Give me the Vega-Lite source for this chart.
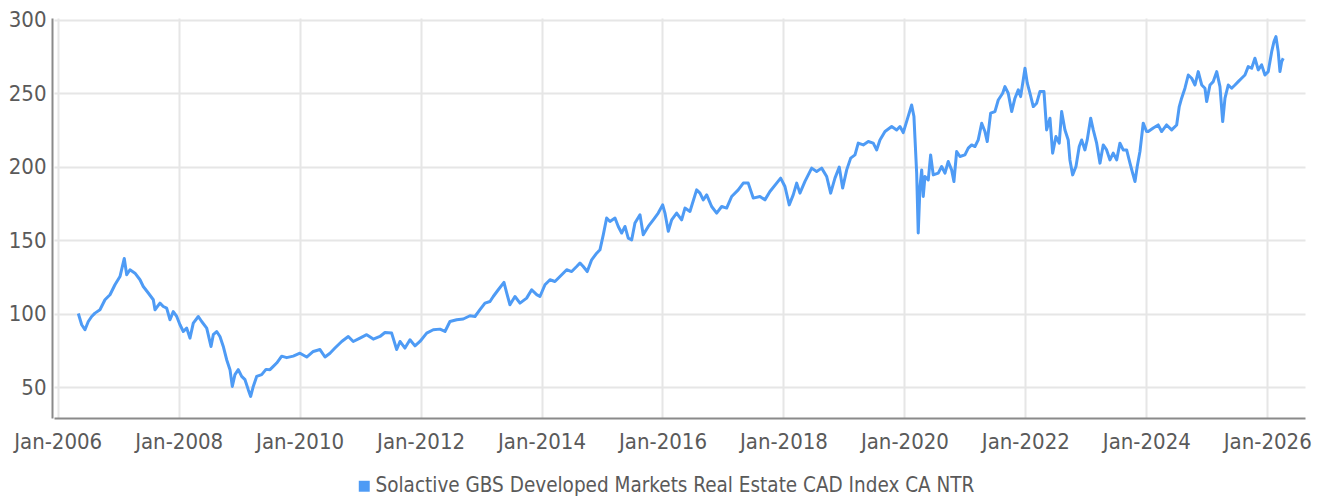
{
  "$schema": "https://vega.github.io/schema/vega-lite/v6.json",
  "width": 1251,
  "height": 400,
  "autosize": {"type": "none"},
  "padding": {"left": 54, "top": 18, "right": 16, "bottom": 83},
  "background": "white",
  "config": {
    "view": {"stroke": null},
    "font": "DejaVu Sans Condensed, Roboto, sans-serif",
    "axis": {"labelFont": "DejaVu Sans Condensed, Roboto, sans-serif", "labelFontSize": 22, "labelColor": "#5a5a5a", "gridColor": "#e6e6e6", "gridWidth": 2, "domainColor": "#8a8a8a", "domainWidth": 2, "ticks": false, "title": null}
  },
  "data": {
    "values": [
      {"t": 2006.341, "value": 100},
      {"t": 2006.397, "value": 92.4}, {"t": 2006.451, "value": 89}, {"t": 2006.506, "value": 94.6}, {"t": 2006.562, "value": 98},
      {"t": 2006.617, "value": 100.3}, {"t": 2006.699, "value": 102.6}, {"t": 2006.782, "value": 109.4}, {"t": 2006.865, "value": 112.8},
      {"t": 2006.947, "value": 119.6}, {"t": 2007.030, "value": 125.2}, {"t": 2007.101, "value": 137.5}, {"t": 2007.141, "value": 126.4},
      {"t": 2007.195, "value": 129.8}, {"t": 2007.278, "value": 127.5}, {"t": 2007.361, "value": 123}, {"t": 2007.415, "value": 118.4},
      {"t": 2007.498, "value": 114}, {"t": 2007.581, "value": 109.4}, {"t": 2007.609, "value": 102.6}, {"t": 2007.691, "value": 107.1},
      {"t": 2007.746, "value": 104.8}, {"t": 2007.802, "value": 103.7}, {"t": 2007.857, "value": 95.8}, {"t": 2007.911, "value": 101.3},
      {"t": 2007.968, "value": 98}, {"t": 2008.022, "value": 92.4}, {"t": 2008.077, "value": 87.8}, {"t": 2008.133, "value": 90.1},
      {"t": 2008.187, "value": 83.3}, {"t": 2008.242, "value": 93.5}, {"t": 2008.325, "value": 98}, {"t": 2008.381, "value": 94.6},
      {"t": 2008.464, "value": 90.1}, {"t": 2008.535, "value": 77.6}, {"t": 2008.573, "value": 85.6}, {"t": 2008.629, "value": 87.8},
      {"t": 2008.683, "value": 84.4}, {"t": 2008.738, "value": 77.6}, {"t": 2008.794, "value": 68.6}, {"t": 2008.849, "value": 61.8},
      {"t": 2008.887, "value": 50.4}, {"t": 2008.931, "value": 58.4}, {"t": 2008.986, "value": 61.8}, {"t": 2009.042, "value": 57.2},
      {"t": 2009.097, "value": 55}, {"t": 2009.151, "value": 48.2}, {"t": 2009.191, "value": 43.6}, {"t": 2009.234, "value": 50.4},
      {"t": 2009.290, "value": 57.2}, {"t": 2009.373, "value": 58.4}, {"t": 2009.444, "value": 62}, {"t": 2009.510, "value": 61.8},
      {"t": 2009.565, "value": 64}, {"t": 2009.621, "value": 66.3}, {"t": 2009.704, "value": 71}, {"t": 2009.786, "value": 70},
      {"t": 2009.895, "value": 71}, {"t": 2010.006, "value": 73}, {"t": 2010.117, "value": 70.4}, {"t": 2010.226, "value": 74.2},
      {"t": 2010.337, "value": 75.5}, {"t": 2010.420, "value": 70.4}, {"t": 2010.502, "value": 73}, {"t": 2010.585, "value": 76.5},
      {"t": 2010.696, "value": 81}, {"t": 2010.805, "value": 84.4}, {"t": 2010.887, "value": 81}, {"t": 2010.998, "value": 83.3},
      {"t": 2011.109, "value": 85.6}, {"t": 2011.218, "value": 82.6}, {"t": 2011.329, "value": 84.4}, {"t": 2011.411, "value": 87.1},
      {"t": 2011.522, "value": 86.7}, {"t": 2011.605, "value": 75.5}, {"t": 2011.660, "value": 81}, {"t": 2011.742, "value": 76.5},
      {"t": 2011.825, "value": 82.2}, {"t": 2011.908, "value": 78}, {"t": 2011.990, "value": 81}, {"t": 2012.101, "value": 86.7},
      {"t": 2012.210, "value": 89}, {"t": 2012.321, "value": 89.4}, {"t": 2012.404, "value": 87.8}, {"t": 2012.486, "value": 94.6},
      {"t": 2012.597, "value": 95.8}, {"t": 2012.706, "value": 96.3}, {"t": 2012.817, "value": 98.5}, {"t": 2012.900, "value": 98},
      {"t": 2012.982, "value": 102.6}, {"t": 2013.065, "value": 107.1}, {"t": 2013.148, "value": 108.2}, {"t": 2013.202, "value": 111.6},
      {"t": 2013.285, "value": 116.2}, {"t": 2013.379, "value": 121.2}, {"t": 2013.424, "value": 114}, {"t": 2013.478, "value": 106},
      {"t": 2013.561, "value": 111.6}, {"t": 2013.644, "value": 107.1}, {"t": 2013.754, "value": 110.5}, {"t": 2013.837, "value": 116.2},
      {"t": 2013.920, "value": 112.9}, {"t": 2013.974, "value": 111.6}, {"t": 2014.057, "value": 119.6}, {"t": 2014.140, "value": 123},
      {"t": 2014.222, "value": 121.8}, {"t": 2014.305, "value": 125.2}, {"t": 2014.416, "value": 129.8}, {"t": 2014.499, "value": 128.6},
      {"t": 2014.581, "value": 132}, {"t": 2014.636, "value": 134.4}, {"t": 2014.690, "value": 132}, {"t": 2014.756, "value": 128.6},
      {"t": 2014.829, "value": 136.6}, {"t": 2014.912, "value": 141.1}, {"t": 2014.966, "value": 143.4}, {"t": 2015.021, "value": 153.6},
      {"t": 2015.077, "value": 165}, {"t": 2015.132, "value": 162.7}, {"t": 2015.215, "value": 165}, {"t": 2015.269, "value": 159.3},
      {"t": 2015.325, "value": 154.8}, {"t": 2015.380, "value": 159.3}, {"t": 2015.434, "value": 151.4}, {"t": 2015.491, "value": 150.2},
      {"t": 2015.545, "value": 161.6}, {"t": 2015.628, "value": 167.2}, {"t": 2015.682, "value": 153.6}, {"t": 2015.765, "value": 159.3},
      {"t": 2015.848, "value": 163.8}, {"t": 2015.930, "value": 168.4}, {"t": 2016.003, "value": 174}, {"t": 2016.041, "value": 168.4},
      {"t": 2016.096, "value": 156}, {"t": 2016.152, "value": 163.8}, {"t": 2016.234, "value": 168.4}, {"t": 2016.317, "value": 163.8},
      {"t": 2016.372, "value": 171.8}, {"t": 2016.454, "value": 169.5}, {"t": 2016.565, "value": 184.2}, {"t": 2016.620, "value": 182},
      {"t": 2016.674, "value": 177.4}, {"t": 2016.731, "value": 180.8}, {"t": 2016.813, "value": 172.9}, {"t": 2016.896, "value": 168.4},
      {"t": 2016.979, "value": 172.9}, {"t": 2017.061, "value": 171.8}, {"t": 2017.144, "value": 179.7}, {"t": 2017.253, "value": 184.2},
      {"t": 2017.336, "value": 188.8}, {"t": 2017.418, "value": 188.8}, {"t": 2017.501, "value": 178.6}, {"t": 2017.612, "value": 179.7},
      {"t": 2017.694, "value": 177.4}, {"t": 2017.777, "value": 183.1}, {"t": 2017.888, "value": 188.8}, {"t": 2017.954, "value": 192.2},
      {"t": 2018.025, "value": 186.5}, {"t": 2018.096, "value": 174}, {"t": 2018.162, "value": 180.8}, {"t": 2018.219, "value": 188.8},
      {"t": 2018.273, "value": 182}, {"t": 2018.356, "value": 190}, {"t": 2018.467, "value": 199}, {"t": 2018.549, "value": 196.7},
      {"t": 2018.632, "value": 199}, {"t": 2018.715, "value": 193.3}, {"t": 2018.781, "value": 182}, {"t": 2018.852, "value": 192.2},
      {"t": 2018.923, "value": 199.7}, {"t": 2018.979, "value": 185.4}, {"t": 2019.046, "value": 197.8}, {"t": 2019.112, "value": 205.8},
      {"t": 2019.183, "value": 208}, {"t": 2019.237, "value": 216}, {"t": 2019.320, "value": 214.8}, {"t": 2019.403, "value": 217.1},
      {"t": 2019.485, "value": 216}, {"t": 2019.541, "value": 211.4}, {"t": 2019.596, "value": 218.2}, {"t": 2019.679, "value": 223.9},
      {"t": 2019.790, "value": 227.3}, {"t": 2019.872, "value": 225}, {"t": 2019.927, "value": 227.3}, {"t": 2019.981, "value": 223.2},
      {"t": 2020.054, "value": 233}, {"t": 2020.120, "value": 242}, {"t": 2020.158, "value": 234.1}, {"t": 2020.175, "value": 219.4},
      {"t": 2020.203, "value": 195.6}, {"t": 2020.229, "value": 154.8}, {"t": 2020.258, "value": 186.5}, {"t": 2020.286, "value": 197.8},
      {"t": 2020.312, "value": 179.7}, {"t": 2020.340, "value": 193.3}, {"t": 2020.395, "value": 191}, {"t": 2020.434, "value": 208},
      {"t": 2020.477, "value": 194.4}, {"t": 2020.560, "value": 195.6}, {"t": 2020.616, "value": 200.1}, {"t": 2020.671, "value": 195.6},
      {"t": 2020.725, "value": 203.5}, {"t": 2020.781, "value": 197.8}, {"t": 2020.819, "value": 189.9}, {"t": 2020.864, "value": 210.3},
      {"t": 2020.919, "value": 206.9}, {"t": 2021.001, "value": 208}, {"t": 2021.056, "value": 212.6}, {"t": 2021.112, "value": 214.8},
      {"t": 2021.167, "value": 213.7}, {"t": 2021.221, "value": 218.2}, {"t": 2021.278, "value": 229.6}, {"t": 2021.332, "value": 223.9},
      {"t": 2021.370, "value": 217.1}, {"t": 2021.426, "value": 236.4}, {"t": 2021.497, "value": 237.5}, {"t": 2021.552, "value": 245.4},
      {"t": 2021.625, "value": 250}, {"t": 2021.663, "value": 254.5}, {"t": 2021.717, "value": 250}, {"t": 2021.774, "value": 237.5},
      {"t": 2021.828, "value": 246.6}, {"t": 2021.883, "value": 252.3}, {"t": 2021.922, "value": 247.7}, {"t": 2021.965, "value": 259},
      {"t": 2021.994, "value": 267}, {"t": 2022.032, "value": 256.8}, {"t": 2022.076, "value": 250}, {"t": 2022.131, "value": 240.9},
      {"t": 2022.187, "value": 243.2}, {"t": 2022.241, "value": 251.1}, {"t": 2022.308, "value": 251.1}, {"t": 2022.352, "value": 225},
      {"t": 2022.407, "value": 233}, {"t": 2022.451, "value": 209.2}, {"t": 2022.506, "value": 220.5}, {"t": 2022.560, "value": 216},
      {"t": 2022.600, "value": 237.5}, {"t": 2022.655, "value": 225}, {"t": 2022.709, "value": 218.2}, {"t": 2022.737, "value": 204.6},
      {"t": 2022.782, "value": 194.4}, {"t": 2022.837, "value": 200.1}, {"t": 2022.891, "value": 213.7}, {"t": 2022.931, "value": 218.2},
      {"t": 2022.985, "value": 211.4}, {"t": 2023.023, "value": 218.2}, {"t": 2023.080, "value": 233}, {"t": 2023.123, "value": 225},
      {"t": 2023.179, "value": 216}, {"t": 2023.234, "value": 202.4}, {"t": 2023.288, "value": 214.8}, {"t": 2023.344, "value": 211.4},
      {"t": 2023.399, "value": 204.6}, {"t": 2023.453, "value": 209.2}, {"t": 2023.510, "value": 204.6}, {"t": 2023.564, "value": 216},
      {"t": 2023.618, "value": 211.4}, {"t": 2023.675, "value": 211.4}, {"t": 2023.730, "value": 202.4}, {"t": 2023.774, "value": 195.6},
      {"t": 2023.813, "value": 189.9}, {"t": 2023.850, "value": 200.1}, {"t": 2023.895, "value": 210.3}, {"t": 2023.949, "value": 229.6},
      {"t": 2024.005, "value": 223.9}, {"t": 2024.032, "value": 223.9}, {"t": 2024.115, "value": 226.3}, {"t": 2024.197, "value": 228.4},
      {"t": 2024.253, "value": 223.9}, {"t": 2024.336, "value": 228.4}, {"t": 2024.419, "value": 225}, {"t": 2024.502, "value": 228.4},
      {"t": 2024.545, "value": 240.9}, {"t": 2024.584, "value": 246.6}, {"t": 2024.639, "value": 253.4}, {"t": 2024.694, "value": 262.4},
      {"t": 2024.750, "value": 260.2}, {"t": 2024.805, "value": 255.6}, {"t": 2024.859, "value": 264.7}, {"t": 2024.916, "value": 255.6},
      {"t": 2024.970, "value": 253.4}, {"t": 2024.998, "value": 244.3}, {"t": 2025.053, "value": 255.6}, {"t": 2025.107, "value": 257.9},
      {"t": 2025.164, "value": 264.7}, {"t": 2025.218, "value": 254.5}, {"t": 2025.263, "value": 230.7}, {"t": 2025.301, "value": 246.6},
      {"t": 2025.355, "value": 255.6}, {"t": 2025.411, "value": 253.4}, {"t": 2025.466, "value": 255.6}, {"t": 2025.520, "value": 257.9},
      {"t": 2025.576, "value": 260.2}, {"t": 2025.631, "value": 262.4}, {"t": 2025.685, "value": 268.1}, {"t": 2025.742, "value": 267},
      {"t": 2025.796, "value": 273.8}, {"t": 2025.851, "value": 265.9}, {"t": 2025.907, "value": 269.3}, {"t": 2025.962, "value": 262.4},
      {"t": 2026.016, "value": 264.7}, {"t": 2026.073, "value": 278.3}, {"t": 2026.111, "value": 285.1}, {"t": 2026.144, "value": 288.5},
      {"t": 2026.181, "value": 278.3}, {"t": 2026.210, "value": 264.7}, {"t": 2026.238, "value": 271.5}, {"t": 2026.264, "value": 273.8}
    ]
  },
  "transform": [
    {"calculate": "'Solactive GBS Developed Markets Real Estate CAD Index CA NTR'", "as": "series"}
  ],
  "mark": {"type": "line", "strokeWidth": 3, "interpolate": "linear", "strokeJoin": "round"},
  "encoding": {
    "x": {
      "field": "t", "type": "quantitative",
      "scale": {"domain": [2005.939, 2026.624], "nice": false, "zero": false},
      "axis": {"values": [2006, 2008, 2010, 2012, 2014, 2016, 2018, 2020, 2022, 2024, 2026], "labelExpr": "'Jan-' + datum.value", "labelPadding": 13, "labelFlush": false, "gridWidth": 2}
    },
    "y": {
      "field": "value", "type": "quantitative",
      "scale": {"domain": [28.9, 301.2], "nice": false, "zero": false},
      "axis": {"values": [50, 100, 150, 200, 250, 300], "labelPadding": 6, "offset": 2}
    },
    "color": {
      "field": "series", "type": "nominal",
      "scale": {"range": ["#4e9bf5"]},
      "legend": {
        "orient": "none", "legendX": 300, "legendY": 458, "title": null,
        "symbolType": "square", "symbolSize": 120, "symbolStrokeWidth": 0,
        "labelFont": "DejaVu Sans Condensed, Roboto, sans-serif", "labelFontSize": 20.5, "labelColor": "#5a5a5a", "labelOffset": 1, "labelLimit": 1000,
        "encode": {"symbols": {"update": {"fill": {"value": "#4e9bf5"}, "fillOpacity": {"value": 1}}}}
      }
    }
  }
}
